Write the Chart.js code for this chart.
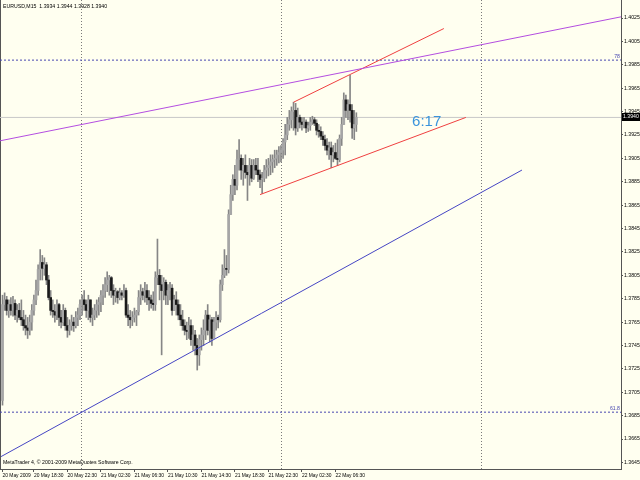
<!DOCTYPE html>
<html>
<head>
<meta charset="utf-8">
<script src="https://cdn.jsdelivr.net/npm/chart.js@4.4.0/dist/chart.umd.min.js"></script>
<style>
  html, body { margin: 0; padding: 0; background: #fffff0; }
  canvas { display: block; }
</style>
</head>
<body>
<canvas id="chart" width="640" height="480"></canvas>
<script>
// EURUSD M15 bars (bar 0 = first bar on screen)
const opens = [
  1.3698, 1.3780, 1.3784, 1.3775, 1.3780, 1.3775, 1.3781, 1.3771, 1.3775, 1.3769,
  1.3767, 1.3762, 1.3760, 1.3758, 1.3765, 1.3775, 1.3784, 1.3792, 1.3810, 1.3816,
  1.3811, 1.3814, 1.3801, 1.3786, 1.3775, 1.3774, 1.3771, 1.3780, 1.3769, 1.3765,
  1.3775, 1.3762, 1.3758, 1.3762, 1.3765, 1.3762, 1.3769, 1.3771, 1.3780, 1.3784,
  1.3780, 1.3775, 1.3784, 1.3769, 1.3771, 1.3775, 1.3780, 1.3782, 1.3788, 1.3792,
  1.3797, 1.3801, 1.3803, 1.3792, 1.3788, 1.3791, 1.3786, 1.3790, 1.3788, 1.3792,
  1.3771, 1.3769, 1.3767, 1.3769, 1.3771, 1.3774, 1.3786, 1.3791, 1.3788, 1.3792,
  1.3786, 1.3784, 1.3781, 1.3780, 1.3803, 1.3805, 1.3797, 1.3792, 1.3799, 1.3788,
  1.3792, 1.3794, 1.3775, 1.3784, 1.3780, 1.3771, 1.3767, 1.3762, 1.3758, 1.3757,
  1.3762, 1.3750, 1.3754, 1.3745, 1.3737, 1.3750, 1.3754, 1.3758, 1.3771, 1.3758,
  1.3767, 1.3751, 1.3765, 1.3769, 1.3767, 1.3797, 1.3805, 1.3811, 1.3810, 1.3857,
  1.3874, 1.3887, 1.3882, 1.3904, 1.3905, 1.3895, 1.3899, 1.3893, 1.3891, 1.3899,
  1.3888, 1.3899, 1.3895, 1.3891, 1.3887, 1.3888, 1.3895, 1.3897, 1.3899, 1.3902,
  1.3904, 1.3905, 1.3908, 1.3910, 1.3912, 1.3919, 1.3925, 1.3934, 1.3938, 1.3945,
  1.3946, 1.3931, 1.3940, 1.3936, 1.3934, 1.3936, 1.3931, 1.3933, 1.3936, 1.3938,
  1.3935, 1.3929, 1.3928, 1.3924, 1.3921, 1.3916, 1.3912, 1.3914, 1.3908, 1.3910,
  1.3905, 1.3904, 1.3922, 1.3934, 1.3955, 1.3946, 1.3951, 1.3946, 1.3931, 1.3934
];
const highs = [
  1.3788, 1.3790, 1.3787, 1.3784, 1.3786, 1.3787, 1.3784, 1.3780, 1.3781, 1.3784,
  1.3775, 1.3771, 1.3769, 1.3771, 1.3780, 1.3788, 1.3801, 1.3814, 1.3827, 1.3822,
  1.3820, 1.3816, 1.3805, 1.3792, 1.3784, 1.3780, 1.3784, 1.3781, 1.3775, 1.3780,
  1.3777, 1.3769, 1.3767, 1.3771, 1.3769, 1.3774, 1.3777, 1.3784, 1.3788, 1.3792,
  1.3784, 1.3788, 1.3784, 1.3777, 1.3780, 1.3784, 1.3786, 1.3792, 1.3797, 1.3803,
  1.3808, 1.3805, 1.3804, 1.3797, 1.3794, 1.3792, 1.3794, 1.3792, 1.3797, 1.3794,
  1.3780, 1.3775, 1.3774, 1.3777, 1.3775, 1.3792, 1.3797, 1.3794, 1.3799, 1.3797,
  1.3792, 1.3788, 1.3791, 1.3808, 1.3836, 1.3810, 1.3805, 1.3803, 1.3801, 1.3797,
  1.3799, 1.3797, 1.3788, 1.3791, 1.3784, 1.3780, 1.3775, 1.3767, 1.3765, 1.3769,
  1.3767, 1.3762, 1.3758, 1.3751, 1.3754, 1.3760, 1.3767, 1.3775, 1.3780, 1.3771,
  1.3769, 1.3769, 1.3774, 1.3771, 1.3801, 1.3814, 1.3827, 1.3822, 1.3861, 1.3882,
  1.3891, 1.3899, 1.3912, 1.3921, 1.3908, 1.3905, 1.3908, 1.3899, 1.3905, 1.3904,
  1.3904, 1.3905, 1.3905, 1.3895, 1.3893, 1.3899, 1.3904, 1.3905, 1.3908, 1.3908,
  1.3912, 1.3912, 1.3915, 1.3916, 1.3922, 1.3934, 1.3940, 1.3946, 1.3949, 1.3953,
  1.3952, 1.3948, 1.3942, 1.3940, 1.3940, 1.3938, 1.3936, 1.3940, 1.3941, 1.3940,
  1.3938, 1.3934, 1.3932, 1.3928, 1.3925, 1.3922, 1.3919, 1.3919, 1.3916, 1.3918,
  1.3921, 1.3925, 1.3940, 1.3961, 1.3959, 1.3955, 1.3976, 1.3951, 1.3946, 1.3944
];
const lows = [
  1.3694, 1.3775, 1.3771, 1.3769, 1.3771, 1.3770, 1.3767, 1.3765, 1.3767, 1.3762,
  1.3758, 1.3754, 1.3751, 1.3754, 1.3758, 1.3771, 1.3780, 1.3788, 1.3801, 1.3801,
  1.3805, 1.3797, 1.3784, 1.3771, 1.3769, 1.3765, 1.3767, 1.3762, 1.3760, 1.3762,
  1.3758, 1.3752, 1.3754, 1.3758, 1.3757, 1.3760, 1.3762, 1.3767, 1.3771, 1.3775,
  1.3769, 1.3767, 1.3765, 1.3762, 1.3767, 1.3769, 1.3771, 1.3774, 1.3780, 1.3786,
  1.3791, 1.3788, 1.3786, 1.3780, 1.3782, 1.3781, 1.3784, 1.3784, 1.3786, 1.3769,
  1.3762, 1.3760, 1.3762, 1.3765, 1.3762, 1.3771, 1.3780, 1.3784, 1.3782, 1.3780,
  1.3775, 1.3777, 1.3775, 1.3775, 1.3797, 1.3784, 1.3737, 1.3784, 1.3780, 1.3780,
  1.3784, 1.3771, 1.3775, 1.3771, 1.3767, 1.3762, 1.3758, 1.3754, 1.3750, 1.3751,
  1.3745, 1.3741, 1.3737, 1.3724, 1.3728, 1.3741, 1.3745, 1.3750, 1.3754, 1.3748,
  1.3745, 1.3754, 1.3758, 1.3760, 1.3765, 1.3792, 1.3803, 1.3805, 1.3807, 1.3857,
  1.3869, 1.3874, 1.3878, 1.3895, 1.3887, 1.3882, 1.3888, 1.3869, 1.3882, 1.3885,
  1.3887, 1.3891, 1.3885, 1.3880, 1.3875, 1.3885, 1.3888, 1.3890, 1.3891, 1.3893,
  1.3897, 1.3899, 1.3901, 1.3902, 1.3905, 1.3908, 1.3921, 1.3929, 1.3931, 1.3929,
  1.3925, 1.3928, 1.3931, 1.3929, 1.3931, 1.3927, 1.3928, 1.3929, 1.3934, 1.3933,
  1.3925, 1.3923, 1.3921, 1.3916, 1.3912, 1.3908, 1.3904, 1.3897, 1.3902, 1.3904,
  1.3899, 1.3902, 1.3916, 1.3934, 1.3940, 1.3938, 1.3936, 1.3922, 1.3921, 1.3928
];
const closes = [
  1.3780, 1.3784, 1.3775, 1.3780, 1.3775, 1.3781, 1.3771, 1.3775, 1.3769, 1.3767,
  1.3762, 1.3760, 1.3758, 1.3765, 1.3775, 1.3784, 1.3792, 1.3810, 1.3816, 1.3811,
  1.3814, 1.3801, 1.3786, 1.3775, 1.3774, 1.3771, 1.3780, 1.3769, 1.3765, 1.3775,
  1.3762, 1.3758, 1.3762, 1.3765, 1.3762, 1.3769, 1.3771, 1.3780, 1.3784, 1.3780,
  1.3775, 1.3784, 1.3769, 1.3771, 1.3775, 1.3780, 1.3782, 1.3788, 1.3792, 1.3797,
  1.3801, 1.3803, 1.3792, 1.3788, 1.3791, 1.3786, 1.3790, 1.3788, 1.3792, 1.3771,
  1.3769, 1.3767, 1.3769, 1.3771, 1.3774, 1.3786, 1.3791, 1.3788, 1.3792, 1.3786,
  1.3784, 1.3781, 1.3780, 1.3803, 1.3805, 1.3797, 1.3792, 1.3799, 1.3788, 1.3792,
  1.3794, 1.3775, 1.3784, 1.3780, 1.3771, 1.3767, 1.3762, 1.3758, 1.3757, 1.3762,
  1.3750, 1.3754, 1.3745, 1.3737, 1.3750, 1.3754, 1.3758, 1.3771, 1.3758, 1.3767,
  1.3751, 1.3765, 1.3769, 1.3767, 1.3797, 1.3805, 1.3811, 1.3810, 1.3857, 1.3874,
  1.3887, 1.3882, 1.3904, 1.3905, 1.3895, 1.3899, 1.3893, 1.3891, 1.3899, 1.3888,
  1.3899, 1.3895, 1.3891, 1.3887, 1.3888, 1.3895, 1.3897, 1.3899, 1.3902, 1.3904,
  1.3905, 1.3908, 1.3910, 1.3912, 1.3919, 1.3925, 1.3934, 1.3938, 1.3945, 1.3946,
  1.3931, 1.3940, 1.3936, 1.3934, 1.3936, 1.3931, 1.3933, 1.3936, 1.3938, 1.3935,
  1.3929, 1.3928, 1.3924, 1.3921, 1.3916, 1.3912, 1.3914, 1.3908, 1.3910, 1.3905,
  1.3904, 1.3922, 1.3934, 1.3955, 1.3946, 1.3951, 1.3946, 1.3931, 1.3934, 1.3940
];

// time axis labels (bar index where each label sits)
const tickBars = [0, 15, 31, 47, 63, 79, 95, 111, 127, 143, 159];
const tickLabels = ['20 May 2009', '20 May 18:30', '20 May 22:30', '21 May 02:30', '21 May 06:30',
  '21 May 10:30', '21 May 14:30', '21 May 18:30', '21 May 22:30', '22 May 02:30', '22 May 06:30'];
const gridBars = [37.5, 133, 228.5];

// price axis labels
const priceTicks = [1.3645, 1.3665, 1.3685, 1.3705, 1.3725, 1.3745, 1.3765, 1.3785, 1.3805, 1.3825,
  1.3845, 1.3865, 1.3885, 1.3905, 1.3925, 1.3945, 1.3965, 1.3985, 1.4005, 1.4025];

// drawn objects: [bar, price] end points
const purpleTrend = [[-1.2, 1.3920], [295.4, 1.4026]];
const blueTrend = [[-0.7, 1.3650], [248.1, 1.3895]];
const channelTop = [[139, 1.3953], [210.8, 1.4016]];
const channelBottom = [[123, 1.3874], [221.3, 1.3940]];
const fibLevels = [1.3989, 1.3688];
const fibNames = ['78', '61.8'];
const timerText = '6:17';

const symbol = 'EURUSD,M15';
const last = closes.length - 1;
const small = "'Liberation Sans', Arial, sans-serif";
const smallSize = 5.2;

const toXY = pts => pts.map(p => ({ x: p[0], y: p[1] }));
const fullWidth = y => [{ x: -1.2, y: y }, { x: 295.4, y: y }];

const overlay = {
  id: 'overlay',
  beforeDraw(chart) {
    const ctx = chart.ctx;
    ctx.save();
    ctx.fillStyle = '#fffff0';
    ctx.fillRect(0, 0, chart.width, chart.height);
    ctx.restore();
  },
  beforeDatasetsDraw(chart) {
    const { ctx, chartArea: a, scales: { x } } = chart;
    ctx.save();
    ctx.strokeStyle = '#7a7a7a';
    ctx.lineWidth = 1;
    ctx.setLineDash([1, 2]);
    gridBars.forEach(b => {
      const px = Math.round(x.getPixelForValue(b)) + 0.5;
      ctx.beginPath(); ctx.moveTo(px, a.top); ctx.lineTo(px, a.bottom); ctx.stroke();
    });
    ctx.setLineDash([]);
    ctx.strokeStyle = '#555555';
    ctx.beginPath(); ctx.moveTo(a.left + 0.5, a.top); ctx.lineTo(a.left + 0.5, a.bottom); ctx.stroke();
    ctx.restore();
  },
  afterDraw(chart) {
    const { ctx, chartArea: a, scales: { x, y } } = chart;
    ctx.save();
    ctx.font = smallSize + 'px ' + small;
    ctx.fillStyle = '#000000';
    ctx.textBaseline = 'middle';
    ctx.fillText(symbol + '  ' + [opens[last], highs[last], lows[last], closes[last]].map(v => v.toFixed(4)).join(' '), 3, 7);
    ctx.fillText('MetaTrader 4, \u00a9 2001-2009 MetaQuotes Software Corp.', 3, 463);

    // fibo level names
    ctx.fillStyle = '#4848b0';
    ctx.textAlign = 'right';
    ctx.textBaseline = 'bottom';
    fibLevels.forEach((lv, i) => ctx.fillText(fibNames[i], a.right - 1, y.getPixelForValue(lv) - 1));

    // bar timer
    ctx.font = '15px "Liberation Sans", Arial, sans-serif';
    ctx.fillStyle = '#3a94dc';
    ctx.textAlign = 'left';
    ctx.textBaseline = 'middle';
    ctx.fillText(timerText, x.getPixelForValue(195.6), y.getPixelForValue(1.3936));

    // bid price box
    const py = Math.round(y.getPixelForValue(closes[last]));
    ctx.fillStyle = '#000000';
    ctx.fillRect(a.right + 1, py - 4, chart.width - a.right - 1, 8);
    ctx.fillStyle = '#ffffff';
    ctx.font = smallSize + 'px ' + small;
    ctx.fillText(closes[last].toFixed(4), a.right + 2, py);
    ctx.restore();
  }
};

new Chart(document.getElementById('chart'), {
  type: 'bar',
  data: {
    datasets: [
      { type: 'line', data: toXY(purpleTrend), borderColor: '#b44ee0', borderWidth: 1, pointRadius: 0, order: 0 },
      { type: 'line', data: toXY(blueTrend), borderColor: '#4646c4', borderWidth: 1, pointRadius: 0, order: 0 },
      { type: 'line', data: toXY(channelTop), borderColor: '#f04040', borderWidth: 1, pointRadius: 0, order: 0 },
      { type: 'line', data: toXY(channelBottom), borderColor: '#f04040', borderWidth: 1, pointRadius: 0, order: 0 },
      {
        data: opens.map((o, i) => ({ x: i, y: [o, closes[i]] })),
        backgroundColor: opens.map((o, i) => closes[i] < o ? '#1a1a1a' : '#a6a6a6'),
        barThickness: 2, grouped: false, order: 1
      },
      {
        data: lows.map((l, i) => ({ x: i, y: [l, highs[i]] })),
        backgroundColor: '#868686',
        barThickness: 1, grouped: false, order: 2
      },
      { type: 'line', data: fullWidth(fibLevels[0]), borderColor: '#4848b0', borderWidth: 1, borderDash: [2, 2], pointRadius: 0, order: 3 },
      { type: 'line', data: fullWidth(fibLevels[1]), borderColor: '#4848b0', borderWidth: 1, borderDash: [2, 2], pointRadius: 0, order: 3 },
      { type: 'line', data: fullWidth(closes[last]), borderColor: '#c8c8c8', borderWidth: 1, pointRadius: 0, order: 4 }
    ]
  },
  options: {
    responsive: false,
    animation: false,
    layout: { padding: 0, autoPadding: false },
    plugins: { legend: { display: false }, tooltip: { enabled: false } },
    scales: {
      x: {
        type: 'linear',
        position: 'bottom',
        offset: false,
        bounds: 'data',
        min: -1.2,
        max: 295.4,
        afterBuildTicks: s => { s.ticks = tickBars.map(v => ({ value: v })); },
        afterFit: s => { s.height = 11; s.paddingLeft = 0; s.paddingRight = 0; },
        ticks: {
          autoSkip: false, maxRotation: 0, align: 'start', padding: 1,
          color: '#000000', font: { family: small, size: 4.9 },
          callback: (v, i) => tickLabels[i]
        },
        grid: { drawOnChartArea: false, offset: false, tickLength: 3, color: '#555555' },
        border: { color: '#555555' }
      },
      y: {
        type: 'linear',
        position: 'right',
        min: 1.36394,
        max: 1.40404,
        afterBuildTicks: s => { s.ticks = priceTicks.map(v => ({ value: v })); },
        afterFit: s => { s.width = 19; s.paddingTop = 0; s.paddingBottom = 0; },
        ticks: {
          padding: 1, color: '#000000', font: { family: small, size: smallSize },
          callback: v => v.toFixed(4)
        },
        grid: { drawOnChartArea: false, tickLength: 2, color: '#555555' },
        border: { color: '#555555' }
      }
    }
  },
  plugins: [overlay]
});
</script>
</body>
</html>
